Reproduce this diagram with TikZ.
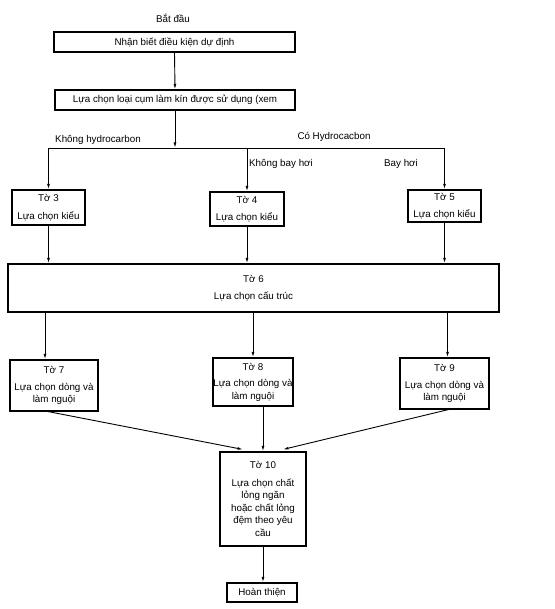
\documentclass[tikz,border=0pt]{standalone}
\usepackage{fontspec}
\setmainfont{Liberation Sans}
\usetikzlibrary{arrows.meta,calc}

\begin{document}
\begin{tikzpicture}[x=1pt,y=-1pt,
  font=\fontsize{9.8}{12.5}\selectfont,
  box/.style={draw=black, line width=1.1pt, inner sep=0pt, align=center},
  link/.style={black, line width=0.9pt, -{Latex[length=5.5pt, width=2.8pt]}},
  wire/.style={black, line width=0.9pt}]
\useasboundingbox (0,0) rectangle (554,609);
\node (start) at (173,18) {Bắt đầu};
\node[box, minimum width=241, minimum height=20] (b1) at (174.5,42) {Nhận biết điều kiện dự định};
\node[box, minimum width=240, minimum height=20] (b2) at (175,100) {Lựa chọn loại cụm làm kín được sử dụng (xem};
\coordinate (split) at (175,148);
\node (nohc) at (98,140) {Không hydrocarbon};
\node (hc) at (334,137) {Có Hydrocacbon};
\node (novol) at (281,164) {Không bay hơi};
\node (vol) at (401,164) {Bay hơi};
\node[box, minimum width=73, minimum height=35] (t3) at (48.5,207.5) {Tờ 3\\[5pt]Lựa chọn kiểu};
\node[box, minimum width=74, minimum height=34] (t4) at (247,209) {Tờ 4\\[5pt]Lựa chọn kiểu};
\node[box, minimum width=73, minimum height=32] (t5) at (444.5,206) {Tờ 5\\[5pt]Lựa chọn kiểu};
\node[box, minimum width=491, minimum height=48] (t6) at (253.5,288) {Tờ 6\\[5pt]Lựa chọn cấu trúc};
\node[box, minimum width=88, minimum height=51] (t7) at (54,385.5) {Tờ 7\\[4pt]Lựa chọn dòng và\\làm nguội};
\node[box, minimum width=80, minimum height=48] (t8) at (253,382) {Tờ 8\\[4pt]Lựa chọn dòng và\\làm nguội};
\node[box, minimum width=89, minimum height=51] (t9) at (444.5,383.5) {Tờ 9\\[4pt]Lựa chọn dòng và\\làm nguội};
\node[box, minimum width=86, minimum height=94] (t10) at (263,499) {Tờ 10\\[5pt]Lựa chọn chất\\lỏng ngăn\\hoặc chất lỏng\\đệm theo yêu\\cầu};
\node[box, minimum width=70, minimum height=19] (done) at (262,592.5) {Hoàn thiện};

\draw[link] (b1.south) -- (b2.north);
\draw[link] (b2.south) -- (split);
\draw[wire] (t3.north |- split) -- (t5.north |- split);
\draw[link] (t3.north |- split) -- (t3.north);
\draw[link] (t4.north |- split) -- (t4.north);
\draw[link] (t5.north |- split) -- (t5.north);
\draw[link] (t3.south) -- (t3.south |- t6.north);
\draw[link] (t4.south) -- (t4.south |- t6.north);
\draw[link] (t5.south) -- (t5.south |- t6.north);
\draw[link] ($(t7.north |- t6.south)+(-9,0)$) -- ($(t7.north)+(-9,0)$);
\draw[link] (t8.north |- t6.south) -- (t8.north);
\draw[link] ($(t9.north |- t6.south)+(3,0)$) -- ($(t9.north)+(3,0)$);
\draw[link] ($(t7.south)+(-6,0)$) -- ($(t10.north)+(-20,-2)$);
\draw[link] (t10.north |- t8.south) -- (t10.north);
\draw[link] ($(t9.south)+(4,0)$) -- ($(t10.north)+(20,-2)$);
\draw[link] (t10.south) -- (t10.south |- done.north);
\end{tikzpicture}
\end{document}
